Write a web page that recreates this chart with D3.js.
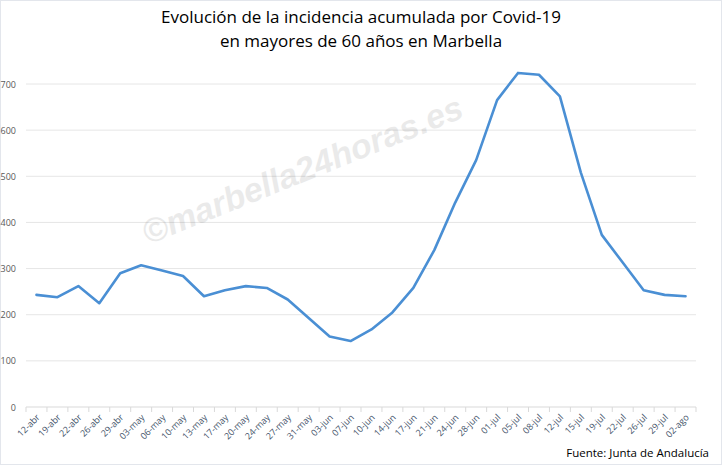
<!DOCTYPE html>
<html><head><meta charset="utf-8">
<script src="https://cdn.jsdelivr.net/npm/d3@7"></script>
<style>body{margin:0;background:#fff;font-family:"Open Sans",sans-serif}</style>
</head><body><svg id="c" width="722" height="465"></svg>
<script>
const categories=["12-abr","19-abr","22-abr","26-abr","29-abr","03-may","06-may","10-may","13-may","17-may","20-may","24-may","27-may","31-may","03-jun","07-jun","10-jun","14-jun","17-jun","21-jun","24-jun","28-jun","01-jul","05-jul","08-jul","12-jul","15-jul","19-jul","22-jul","26-jul","29-jul","02-ago"];
const values=[243,238,262,225,290,307,296,284,240,253,262,258,233,193,153,143,168,205,258,340,443,535,665,724,720,673,508,373,313,253,243,240];
const yTicks=[0,100,200,300,400,500,600,700];
const svg=d3.select("#c");
svg.append("rect").attr("x",0.5).attr("y",0.5).attr("width",721).attr("height",464).attr("fill","#fff").attr("stroke","#e3e6ec");
const x=d3.scaleBand().domain(categories).range([26,696]);
const y=d3.scaleLinear().domain([0,700]).range([407,84]);
const g=svg.append("g");
g.selectAll("line.grid").data(yTicks).join("line").attr("x1",26).attr("x2",696)
 .attr("y1",d=>y(d)).attr("y2",d=>y(d)).attr("stroke",d=>d===0?"#d9d9d9":"#e6e6e6");
g.selectAll("text.yl").data(yTicks).join("text").attr("x",16).attr("y",d=>y(d)+3.5)
 .attr("text-anchor","end").attr("font-size",9).attr("fill","#595959").text(d=>d);
const bounds=categories.map(c=>x(c)).concat([x.range()[1]]);
g.selectAll("line.tk").data(bounds).join("line").attr("x1",d=>d).attr("x2",d=>d)
 .attr("y1",407).attr("y2",412).attr("stroke","#d9d9d9");
g.selectAll("text.xl").data(categories).join("text")
 .attr("transform",d=>`translate(${x(d)+x.bandwidth()/2+4},${418}) rotate(-45)`)
 .attr("text-anchor","end").attr("font-size",9).attr("fill","#44546a").text(d=>d);
svg.append("text").attr("transform","translate(148,245) rotate(-22)").attr("font-size",34)
 .attr("font-weight","bold").attr("font-style","italic").attr("fill","#000").attr("opacity",0.08)
 .attr("font-family","Arial, Liberation Sans").text("©marbella24horas.es");
const line=d3.line().x((d,i)=>x(categories[i])+x.bandwidth()/2).y(d=>y(d));
svg.append("path").datum(values).attr("d",line).attr("fill","none").attr("stroke","#4a8fd4")
 .attr("stroke-width",2.6).attr("stroke-linejoin","round").attr("stroke-linecap","round");
svg.append("text").attr("x",361).attr("y",23).attr("text-anchor","middle").attr("font-size",17).attr("fill","#000").text("Evolución de la incidencia acumulada por Covid-19");
svg.append("text").attr("x",361).attr("y",47).attr("text-anchor","middle").attr("font-size",17).attr("fill","#000").text("en mayores de 60 años en Marbella");
svg.append("text").attr("x",709).attr("y",457).attr("text-anchor","end").attr("font-size",11.5).attr("fill","#000").text("Fuente: Junta de Andalucía");
</script></body></html>
